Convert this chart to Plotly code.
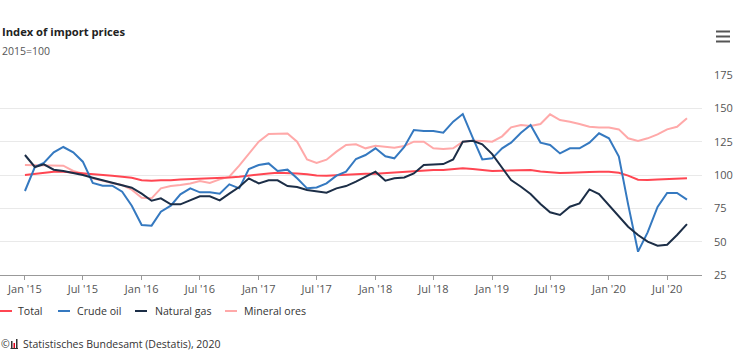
import pandas as pd
import plotly.graph_objects as go

# ---------------- data ----------------
months = pd.date_range("2015-01-01", periods=69, freq="MS")

series_names = ["Total", "Crude oil", "Natural gas", "Mineral ores"]

total = [100, 101, 101.5, 102.5, 102.5, 102, 101.5, 100.7, 100, 99.5, 98.7, 98,
         96, 95.7, 96, 96, 96.7, 97, 97.2, 97.2, 97.5, 98.2, 98.7, 99.7,
         100.7, 101.2, 101.7, 101.7, 101.2, 100.5, 99.7, 99.5, 100, 100.5, 100.7, 101,
         101, 101.5, 101.7, 102, 102.5, 103.2, 103.7, 103.7, 104.2, 105, 104.5, 103.5,
         103, 103.2, 103.5, 103.7, 103.7, 102.7, 102, 101.5, 101.7, 101.7, 102.2, 102.5,
         102.5, 101.7, 99.5, 96.5, 96.2, 96.7, 97, 97.2, 97.5]

crude_oil = [88, 106, 109, 117, 121, 117, 110, 94, 92, 92, 87.5, 77,
             62.5, 62, 72.5, 77, 85.5, 90, 87, 87, 86, 93, 90, 104.5,
             107.5, 108.7, 103, 104, 97.5, 90, 90.7, 93.7, 99.5, 102.5, 112, 115,
             120, 114, 112.5, 121, 133.7, 133, 133, 131.7, 140, 145.7, 128, 111.7,
             112.5, 120, 124.3, 131.7, 137.5, 124.3, 122.5, 116.2, 120, 120, 124.3, 131.3,
             127.5, 113.8, 78, 42.5, 57, 76, 86.5, 86.5, 81.5]

natural_gas = [115, 106, 108, 104, 103, 101.7, 100, 98, 96, 94, 92.5, 90.5,
               86, 80.7, 82.5, 78, 78, 81, 84, 84, 81, 86, 91, 97.5,
               93.7, 96, 96, 91.7, 91, 88.7, 87.5, 86.7, 90, 91.7, 95, 98.7,
               102.5, 95.7, 97.5, 98.2, 101.2, 107.5, 108, 108.2, 111.7, 125, 125.7, 123,
               115.7, 105.7, 96.2, 91.2, 85.7, 78.2, 72, 70, 76.2, 78.7, 89.2, 85.7,
               77.5, 68.7, 61.2, 55, 50, 47, 47.7, 55, 63.2]

mineral_ores = [107.5, 107.5, 107.5, 107, 107, 103, 101, 97.5, 95.5, 94, 92.5, 89,
                83, 82.5, 90, 91.7, 92.5, 93.7, 95.5, 94, 96.7, 98.7, 107, 116,
                125, 130.7, 130.7, 131.2, 125, 111.7, 109, 111.5, 117.5, 122.5, 123, 120,
                122, 121.5, 120.5, 121.7, 125, 125, 120, 119.5, 120, 125, 125.7, 125.5,
                125, 129, 135.7, 137.5, 136.7, 138.2, 145.5, 141.2, 140, 138.2, 136.2, 135.7,
                135.7, 134.2, 127.5, 125.5, 127.5, 130.5, 134.2, 136.2, 142.5]

y_ticks = [25, 50, 75, 100, 125, 150, 175]

title_text = "Index of import prices"
subtitle_text = "2015=100"
source_text = "Statistisches Bundesamt (Destatis), 2020"

# ---------------- styling ----------------
colors = ["#ff4652", "#3579c0", "#1c2e47", "#ffa9a9"]
FONT = "Open Sans"
W, H = 740, 357
L, R, T, B = 0, 38, 75, 82
PW, PH = W - L - R, H - T - B


def px(x):
    return (x - L) / PW


def py(y):
    return (T + PH - y) / PH


fig = go.Figure()
order = [3, 0, 1, 2]  # draw pink first, then red, blue, navy
all_vals = [total, crude_oil, natural_gas, mineral_ores]
for k in order:
    fig.add_trace(go.Scatter(x=months, y=all_vals[k], name=series_names[k], mode="lines",
                             line=dict(color=colors[k], width=2), showlegend=False,
                             hoverinfo="skip"))

shapes = []
annotations = []

# title & subtitle
annotations.append(dict(x=px(0), y=py(32), xref="paper", yref="paper", text="<b>" + title_text + "</b>",
                        showarrow=False, xanchor="left", yanchor="middle",
                        font=dict(family=FONT, size=11.2, color="#222")))
annotations.append(dict(x=px(0), y=py(51), xref="paper", yref="paper", text=subtitle_text,
                        showarrow=False, xanchor="left", yanchor="middle",
                        font=dict(family=FONT, size=10.5, color="#555")))

# hamburger menu icon
for yy in (31.5, 36.5, 41.5):
    shapes.append(dict(type="line", xref="paper", yref="paper",
                       x0=px(716), x1=px(730), y0=py(yy), y1=py(yy),
                       line=dict(color="#555", width=2)))

# manual legend
leg_line_x = [0, 58, 135, 225]
leg_text_x = [16, 75, 153, 242]
for name, col, lx, tx in zip(series_names, colors, leg_line_x, leg_text_x):
    shapes.append(dict(type="line", xref="paper", yref="paper",
                       x0=px(lx), x1=px(lx + 12), y0=py(311), y1=py(311),
                       line=dict(color=col, width=2)))
    annotations.append(dict(x=px(tx), y=py(311), xref="paper", yref="paper", text=name,
                            showarrow=False, xanchor="left", yanchor="middle",
                            font=dict(family=FONT, size=10.6, color="#333")))

# source line with small logo
annotations.append(dict(x=px(-1), y=py(344), xref="paper", yref="paper", text="©",
                        showarrow=False, xanchor="left", yanchor="middle",
                        font=dict(family=FONT, size=10.5, color="#333")))
shapes.append(dict(type="rect", xref="paper", yref="paper", x0=px(11), x1=px(12.5), y0=py(348),
                   y1=py(341), fillcolor="#333", line=dict(width=0)))
shapes.append(dict(type="rect", xref="paper", yref="paper", x0=px(13.5), x1=px(15), y0=py(348),
                   y1=py(343), fillcolor="#e2001a", line=dict(width=0)))
shapes.append(dict(type="rect", xref="paper", yref="paper", x0=px(16), x1=px(17.5), y0=py(348),
                   y1=py(339), fillcolor="#333", line=dict(width=0)))
shapes.append(dict(type="line", xref="paper", yref="paper", x0=px(10.5), x1=px(18), y0=py(348.5),
                   y1=py(348.5), line=dict(color="#333", width=1)))
annotations.append(dict(x=px(21), y=py(344), xref="paper", yref="paper", text=source_text,
                        showarrow=False, xanchor="left", yanchor="middle",
                        font=dict(family=FONT, size=10.5, color="#333")))

fig.update_layout(
    width=W, height=H,
    margin=dict(l=L, r=R, t=T, b=B, pad=0),
    paper_bgcolor="white", plot_bgcolor="white",
    font=dict(family=FONT, size=11, color="#555"),
    showlegend=False,
    shapes=shapes, annotations=annotations,
    hovermode=False,
)

fig.update_xaxes(
    type="date",
    range=["2014-10-15", "2020-10-18"],
    tick0="2015-01-01", dtick="M6", tickformat="%b '%y",
    ticks="outside", ticklen=4, tickcolor="#999", tickwidth=1,
    showline=True, linecolor="#999", linewidth=1,
    showgrid=False, zeroline=False, automargin=False,
    tickfont=dict(family=FONT, size=11, color="#555"),
)

fig.update_yaxes(
    side="right", range=[25, 175], tickvals=y_ticks,
    showgrid=True, gridcolor="#e9e9e9", gridwidth=1,
    zeroline=False, showline=False, ticks="", automargin=False,
    ticklabelstandoff=11,
    tickfont=dict(family=FONT, size=11, color="#555"),
)

fig.write_html("out.html", config={"displayModeBar": False},
               post_script="document.body.style.margin='0';document.body.style.padding='0';")
